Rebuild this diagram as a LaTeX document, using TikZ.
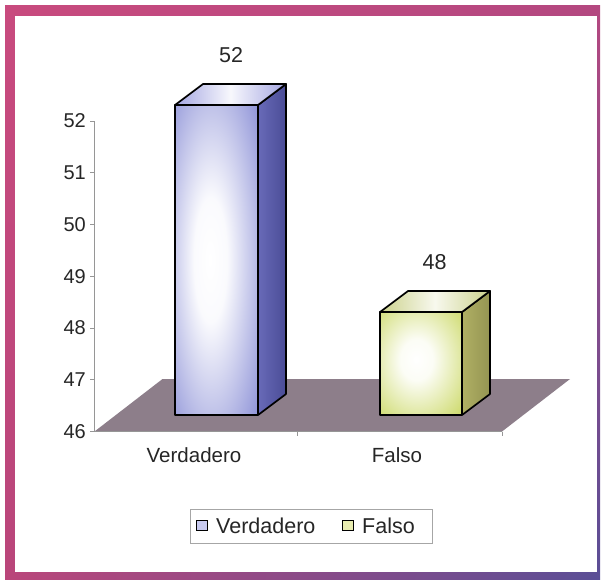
\documentclass[tikz,border=0pt]{standalone}
\usepackage{fontspec}
\setmainfont{Liberation Sans}
\usetikzlibrary{shadings}
\definecolor{frameA}{RGB}{200,74,126}
\definecolor{frameB}{RGB}{180,72,128}
\definecolor{frameC}{RGB}{186,70,122}
\definecolor{frameD}{RGB}{90,78,150}
\definecolor{floorc}{RGB}{141,126,138}
\definecolor{axisc}{RGB}{150,150,150}
\definecolor{blueF}{RGB}{132,137,212}
\definecolor{blueS1}{RGB}{104,106,184}
\definecolor{blueS2}{RGB}{74,76,150}
\definecolor{blueT}{RGB}{164,166,226}
\definecolor{yelF}{RGB}{200,214,92}
\definecolor{yelS1}{RGB}{176,176,100}
\definecolor{yelS2}{RGB}{148,148,82}
\definecolor{yelT}{RGB}{204,210,140}
\definecolor{legB}{RGB}{200,202,240}
\definecolor{legY}{RGB}{232,236,176}
\pgfdeclareradialshading{glowblue}{\pgfpoint{-4bp}{0bp}}{color(0bp)=(white); color(10bp)=(white!96!blueF); color(40bp)=(blueF); color(100bp)=(blueF)}
\pgfdeclareradialshading{glowyel}{\pgfpoint{-3bp}{2bp}}{color(0bp)=(white); color(10bp)=(white!94!yelF); color(40bp)=(yelF); color(100bp)=(yelF)}
\tikzset{
  barline/.style={draw=black, line width=1.7pt, line join=round},
  ticklab/.style={anchor=east, inner sep=0pt, text=black!85, font=\fontsize{20}{24}\selectfont},
  vallab/.style={inner sep=0pt, text=black!85, font=\fontsize{21.5}{26}\selectfont},
  catlab/.style={anchor=base, inner sep=0pt, text=black!85, font=\fontsize{20.5}{24}\selectfont},
  leglab/.style={anchor=base west, inner sep=0pt, text=black!85, font=\fontsize{21.5}{26}\selectfont},
  legmark/.style={draw=black, line width=1.4pt, minimum size=10.5pt, inner sep=0pt},
  axisline/.style={draw=axisc, line width=0.8pt}
}
\begin{document}
\begin{tikzpicture}[x=1pt,y=-1pt]
\useasboundingbox (0,0) rectangle (601,579);
% frame
\shade[upper left=frameA, upper right=frameB, lower left=frameC, lower right=frameD]
  (5,5) rectangle (600,579);
\fill[white] (15,16) rectangle (597,572);
% floor
\fill[floorc] (94.5,431.5) -- (162.5,379) -- (570,379) -- (502,431.5) -- cycle;
% value axis
\draw[axisline] (94.5,121) -- (94.5,431.5);
\foreach \v [count=\i from 0] in {46,47,48,49,50,51,52} {
  \draw[axisline] (90,431.5-\i*51.75) -- (94.5,431.5-\i*51.75);
  \node[ticklab] (t\v) at (86,431.5-\i*51.75) {\v};
}
% category axis ticks
\draw[axisline] (94.5,431.5) -- (502,431.5);
\draw[axisline] (297,431.5) -- (297,436);
\draw[axisline] (502,431.5) -- (502,436);
% bar 1 (Verdadero)
\shade[left color=blueS1, right color=blueS2] (258,105) -- (286,84) -- (286,394) -- (258,415) -- cycle;
\draw[barline] (258,105) -- (286,84) -- (286,394) -- (258,415) -- cycle;
\shade[left color=blueT, right color=blueT, middle color=white!92!blueT] (175,105) -- (203,84) -- (286,84) -- (258,105) -- cycle;
\draw[barline] (175,105) -- (203,84) -- (286,84) -- (258,105) -- cycle;
\shade[shading=glowblue] (175,105) rectangle (258,415);
\draw[barline] (175,105) rectangle (258,415);
% bar 2 (Falso)
\shade[left color=yelS1, right color=yelS2] (462,312) -- (490,291) -- (490,394) -- (462,415) -- cycle;
\draw[barline] (462,312) -- (490,291) -- (490,394) -- (462,415) -- cycle;
\shade[left color=yelT, right color=yelT, middle color=white!85!yelT] (380,312) -- (408,291) -- (490,291) -- (462,312) -- cycle;
\draw[barline] (380,312) -- (408,291) -- (490,291) -- (462,312) -- cycle;
\shade[shading=glowyel] (380,312) rectangle (462,415);
\draw[barline] (380,312) rectangle (462,415);
% value labels
\node[vallab] (v1) at (231,55) {52};
\node[vallab] (v2) at (434.5,262) {48};
% category labels
\node[catlab] (c1) at (194,462) {Verdadero};
\node[catlab] (c2) at (397,462) {Falso};
% legend
\draw[draw=black!35, line width=0.6pt] (190,509) rectangle (432,543);
\node[legmark, fill=legB] (m1) at (202,525.5) {};
\node[leglab] (l1) at (216,533) {Verdadero};
\node[legmark, fill=legY] (m2) at (348,525.5) {};
\node[leglab] (l2) at (362,533) {Falso};
\end{tikzpicture}
\end{document}
